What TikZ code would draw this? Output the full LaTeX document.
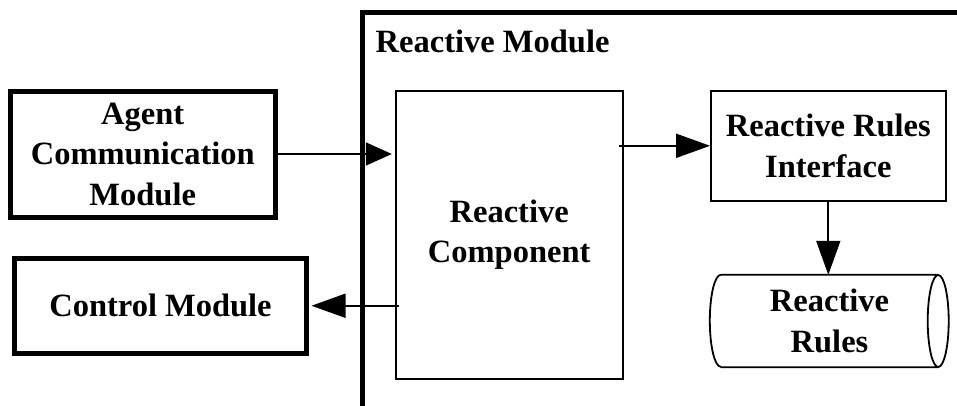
\documentclass[tikz,border=0pt]{standalone}
\usepackage{fontspec}
\setmainfont{Liberation Serif}[BoldFont={Liberation Serif Bold}]
\usetikzlibrary{arrows.meta,calc}
\tikzset{
  lbl/.style={font=\bfseries\fontsize{32.5}{40.5}\selectfont, align=center, inner sep=0pt},
  heavybox/.style={lbl, draw, line width=5pt, rectangle},
  lightbox/.style={lbl, draw, line width=1.8pt, rectangle},
  flow/.style={line width=1.8pt, -{Triangle[length=34pt,width=24pt]}},
  flowshort/.style={line width=1.8pt, -{Triangle[length=26pt,width=23pt]}},
}
\begin{document}
\begin{tikzpicture}[x=1pt,y=-1pt]
  \useasboundingbox (0,0) rectangle (957,406);
  \fill[white] (0,0) rectangle (957,406);

  % open frame of the reactive module (left and top edges)
  \coordinate (frameBL) at (362,410);
  \coordinate (frameTL) at (362,12.5);
  \coordinate (frameTR) at (962,12.5);
  \draw[line width=5pt] (frameBL) -- (frameTL) -- (frameTR);
  \node[lbl, anchor=base west] (rmlabel) at (375.5,53) {Reactive Module};

  % outer modules
  \node[heavybox, minimum width=265.5pt, minimum height=125.5pt] (acm) at (142.75,154.25)
    {Agent\\Communication\\Module};
  \node[heavybox, minimum width=292pt, minimum height=95.5pt] (cm) at (160.5,305.75)
    {Control Module};

  % inner components
  \node[lightbox, minimum width=227pt, minimum height=288pt] (rc) at (509.2,234.8)
    {Reactive\\Component};
  \node[lightbox, minimum width=234.7pt, minimum height=110.3pt] (rri) at (828.3,145.8)
    {Reactive Rules\\Interface};

  % rule store drawn as a horizontal cylinder
  \node[lbl, minimum width=217pt, minimum height=92pt] (rr) at (829.5,321)
    {Reactive\\Rules};
  \draw[line width=1.8pt]
    (rr.north west) -- (rr.north east)
    (rr.south west) -- (rr.south east)
    (rr.north west) arc[start angle=90, end angle=270, x radius=11pt, y radius=46pt]
    (rr.east) ellipse[x radius=10.5pt, y radius=46pt];

  % connectors
  \draw[flowshort] (acm.east |- 0,154) -- ($(rc.west |- 0,154)+(-3,0)$);
  \draw[flow] ($(rc.west |- cm.east)+(4,0)$) -- ($(cm.east)+(2.5,0)$);
  \draw[flow] ($(rc.east |- rri.west)+(-4.5,0)$) -- (rri.west);
  \draw[flow] (rri.south) -- (rri.south |- rr.north);
\end{tikzpicture}
\end{document}
